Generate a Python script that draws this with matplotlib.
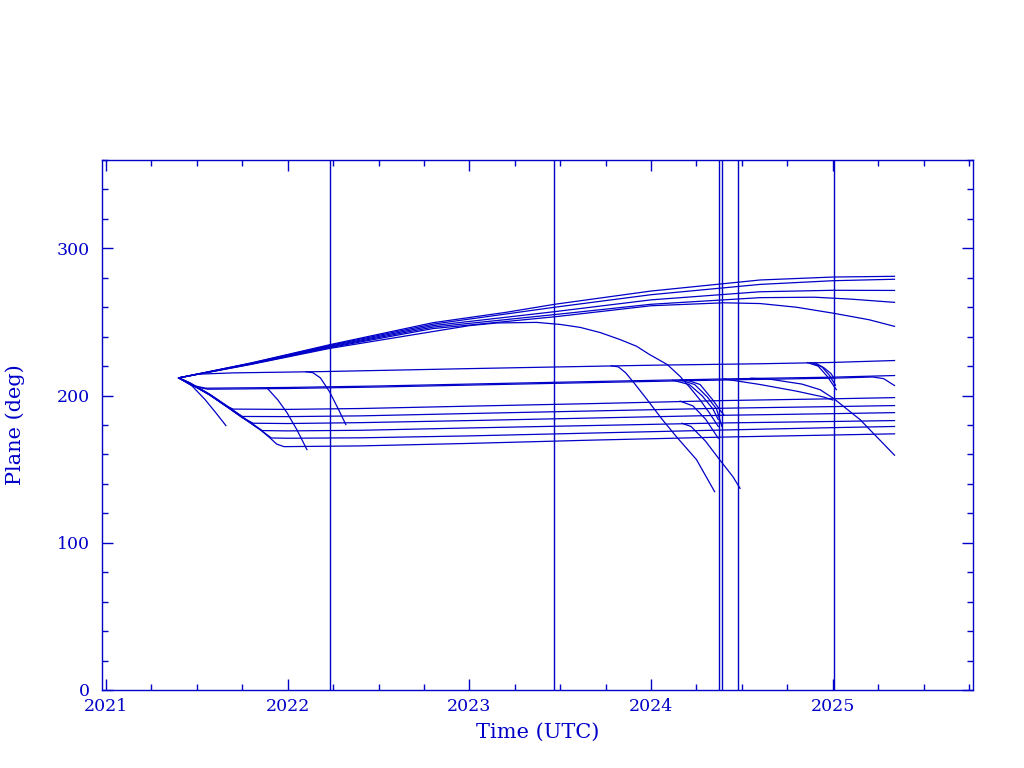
import matplotlib
matplotlib.use("Agg")
import matplotlib.pyplot as plt
from matplotlib.ticker import MultipleLocator

BLUE = "#0000c8"
plt.rcParams['font.family'] = ['DejaVu Serif']

# --- data: (time in years, plane in deg) ---
# upper fan, rising from the launch point
upper_1 = [(2021.40, 212), (2021.8, 222.2), (2022.23, 234.5), (2022.8, 249.5), (2023.2, 256.5), (2023.47, 262),
           (2024.0, 271), (2024.4, 276), (2024.6, 278.5), (2025.0, 280.5), (2025.34, 281)]
upper_2 = [(2021.40, 212), (2021.8, 222.0), (2022.23, 234), (2022.8, 248.5), (2023.47, 260),
           (2024.0, 268.5), (2024.6, 275.5), (2025.0, 278), (2025.34, 279)]
upper_3 = [(2021.40, 212), (2021.8, 221.8), (2022.23, 233.5), (2022.8, 247.5), (2023.47, 257),
           (2024.0, 265), (2024.6, 270.5), (2025.0, 271.5), (2025.34, 271.4)]
upper_4 = [(2021.40, 212), (2021.8, 221.6), (2022.23, 233), (2022.8, 246.5), (2023.47, 255),
           (2024.0, 262), (2024.6, 266.5), (2024.9, 266.8), (2025.1, 265.5), (2025.34, 263.3)]
upper_5 = [(2021.40, 212), (2021.8, 221.4), (2022.23, 232.5), (2022.8, 245.5), (2023.47, 253.5),
           (2024.0, 261), (2024.4, 263), (2024.6, 262.5), (2024.8, 260), (2025.0, 256), (2025.2, 251.5),
           (2025.34, 247)]
upper_6 = [(2021.40, 212), (2021.8, 221.2), (2022.23, 232), (2022.8, 243.5), (2023.0, 247.5), (2023.15, 249.3),
           (2023.37, 249.7), (2023.5, 248.3), (2023.61, 246.3), (2023.72, 242.8), (2023.83, 238), (2023.92, 233.5),
           (2023.99, 228), (2024.09, 221), (2024.16, 213), (2024.21, 206), (2024.27, 197), (2024.32, 188.4),
           (2024.37, 179)]

# two near-flat tracks at ~215 and ~205 deg
flat_215 = [(2021.40, 212), (2021.50, 214.5), (2021.7, 215.4), (2022.2, 216.3), (2023.0, 218.3), (2023.47, 219.4),
            (2024.0, 220.6), (2024.6, 221.6), (2025.0, 222.5), (2025.34, 223.8)]
flat_205 = [(2021.40, 212), (2021.47, 207), (2021.55, 205), (2022.0, 205.5), (2022.5, 206.5), (2023.0, 207.8),
            (2023.47, 209), (2024.0, 210.3), (2024.5, 211.5), (2025.0, 212.5), (2025.34, 213.6)]
flat_205b = [(2021.40, 212), (2021.48, 206.3), (2021.56, 204.3), (2022.0, 204.8), (2022.5, 205.8), (2023.0, 207.1),
             (2023.47, 208.3), (2024.0, 209.6), (2024.5, 210.8), (2025.0, 211.8), (2025.22, 212.6),
             (2025.28, 211.5), (2025.34, 206.8)]

# lower tracks: down the bundle, then level off
lower_1 = [(2021.40, 212), (2021.46, 208.3), (2021.57, 200.5), (2021.66, 193), (2021.70, 190.8), (2022.0, 190.6),
           (2022.4, 191.2), (2023.0, 192.8), (2023.7, 194.6), (2024.4, 196.6), (2025.0, 197.8), (2025.34, 198.6)]
lower_2 = [(2021.40, 212), (2021.46, 208.6), (2021.57, 200.8), (2021.66, 193.2), (2021.75, 185.8), (2022.0, 185.7),
           (2022.4, 186.2), (2023.0, 187.8), (2023.7, 189.6), (2024.4, 191.4), (2025.0, 192.5), (2025.34, 193.2)]
lower_3 = [(2021.40, 212), (2021.46, 208.2), (2021.57, 200.4), (2021.66, 192.8), (2021.75, 185.0), (2021.81, 181.2),
           (2022.0, 181), (2022.4, 181.6), (2023.0, 183), (2023.7, 184.8), (2024.4, 186.6), (2025.0, 187.7),
           (2025.34, 188.4)]
lower_4 = [(2021.40, 212), (2021.46, 208.8), (2021.57, 201), (2021.66, 193.5), (2021.75, 185.6), (2021.86, 176.2),
           (2022.0, 176), (2022.4, 176.4), (2023.0, 178), (2023.7, 179.7), (2024.4, 181.4), (2025.0, 182.4),
           (2025.34, 183)]
lower_5 = [(2021.40, 212), (2021.46, 208.4), (2021.57, 200.6), (2021.66, 193), (2021.75, 185.2), (2021.85, 176.7),
           (2021.91, 171.2), (2022.0, 171), (2022.4, 171.3), (2023.0, 172.6), (2023.7, 174.6), (2024.4, 176.6),
           (2025.0, 178.2), (2025.34, 179)]
lower_6 = [(2021.40, 212), (2021.46, 208.5), (2021.57, 200.7), (2021.66, 193), (2021.75, 185.2), (2021.85, 176.7),
           (2021.90, 171.5), (2021.94, 167), (2021.98, 165.3), (2022.4, 165.8), (2023.0, 167.5), (2023.7, 169.8),
           (2024.4, 171.8), (2025.0, 173.2), (2025.34, 174)]

# tracks breaking away and falling
fall_a = [(2021.40, 212), (2021.47, 207), (2021.545, 197.3), (2021.60, 189), (2021.66, 179.6)]
fall_b = [(2021.886, 205.2), (2021.946, 197), (2021.996, 188.4), (2022.05, 176.9), (2022.106, 163.3)]
fall_c = [(2022.10, 216.2), (2022.139, 215.5), (2022.18, 212), (2022.23, 202.7), (2022.28, 190.5), (2022.32, 180.3)]
fall_d = [(2023.78, 220.2), (2023.82, 219.5), (2023.86, 215.5), (2023.91, 208), (2023.98, 197), (2024.06, 184),
          (2024.14, 172), (2024.25, 156.5), (2024.35, 134.7)]
fall_e = [(2024.12, 210.4), (2024.21, 207.5), (2024.28, 200), (2024.34, 191), (2024.37, 183.7)]
fall_f = [(2024.16, 210.6), (2024.24, 207.5), (2024.31, 199), (2024.36, 191), (2024.39, 179)]
fall_g = [(2024.19, 210.8), (2024.27, 207.5), (2024.34, 197), (2024.38, 190), (2024.40, 187)]
fall_h = [(2024.17, 181.2), (2024.22, 179), (2024.30, 169), (2024.38, 156), (2024.45, 145), (2024.49, 137)]
fall_i = [(2024.16, 196.2), (2024.23, 193), (2024.30, 184), (2024.37, 171)]
fall_j = [(2024.40, 211.3), (2024.6, 207.5), (2024.8, 203), (2024.95, 199), (2025.0, 197)]
fall_k = [(2024.55, 211.8), (2024.65, 211.2), (2024.83, 207.8), (2024.93, 204), (2025.005, 198),
          (2025.15, 183.7), (2025.34, 159.5)]
fall_l = [(2024.86, 222.4), (2024.92, 220), (2024.97, 213), (2025.02, 204)]
fall_m = [(2024.88, 222.4), (2024.94, 219.5), (2024.98, 214), (2025.015, 207)]
fall_n = [(2024.90, 222.4), (2024.95, 219), (2024.99, 215), (2025.01, 211)]

events = [2022.232, 2023.465, 2024.373, 2024.389, 2024.477, 2025.006]

tracks = [upper_1, upper_2, upper_3, upper_4, upper_5, upper_6,
          flat_215, flat_205, flat_205b,
          lower_1, lower_2, lower_3, lower_4, lower_5, lower_6,
          fall_a, fall_b, fall_c, fall_d, fall_e, fall_f, fall_g, fall_h, fall_i,
          fall_j, fall_k, fall_l, fall_m, fall_n]

fig = plt.figure(figsize=(10.24, 7.68), dpi=100)
ax = fig.add_axes([102 / 1024, 78 / 768, 871 / 1024, 530 / 768])

for tr in tracks:
    t = [p[0] for p in tr]
    v = [p[1] for p in tr]
    ax.plot(t, v, color=BLUE, lw=0.9)

for e in events:
    ax.axvline(e, color=BLUE, lw=1.0)

ax.set_xlim(2020.978, 2025.772)
ax.set_ylim(0, 360)

ax.xaxis.set_major_locator(MultipleLocator(1))
ax.xaxis.set_minor_locator(MultipleLocator(0.25))
ax.yaxis.set_major_locator(MultipleLocator(100))
ax.yaxis.set_minor_locator(MultipleLocator(20))
ax.xaxis.set_major_formatter(plt.FuncFormatter(lambda x, p: "%d" % round(x)))

ax.tick_params(which='both', direction='in', top=True, right=True, color=BLUE, width=1.0,
               labelcolor=BLUE, labelsize=12.5)
ax.tick_params(which='major', length=8)
ax.tick_params(which='minor', length=4)
ax.tick_params(axis='x', pad=6)
ax.tick_params(axis='y', pad=9)
for sp in ax.spines.values():
    sp.set_color(BLUE)
    sp.set_linewidth(1.0)

ax.set_xlabel("Time (UTC)", color=BLUE, fontsize=15, va='center')
ax.set_ylabel("Plane (deg)", color=BLUE, fontsize=15, va='center')
ax.xaxis.set_label_coords(0.5006, -0.079)
ax.yaxis.set_label_coords(-0.0999, 0.5)

fig.savefig("out.png", dpi=100, facecolor="white")
